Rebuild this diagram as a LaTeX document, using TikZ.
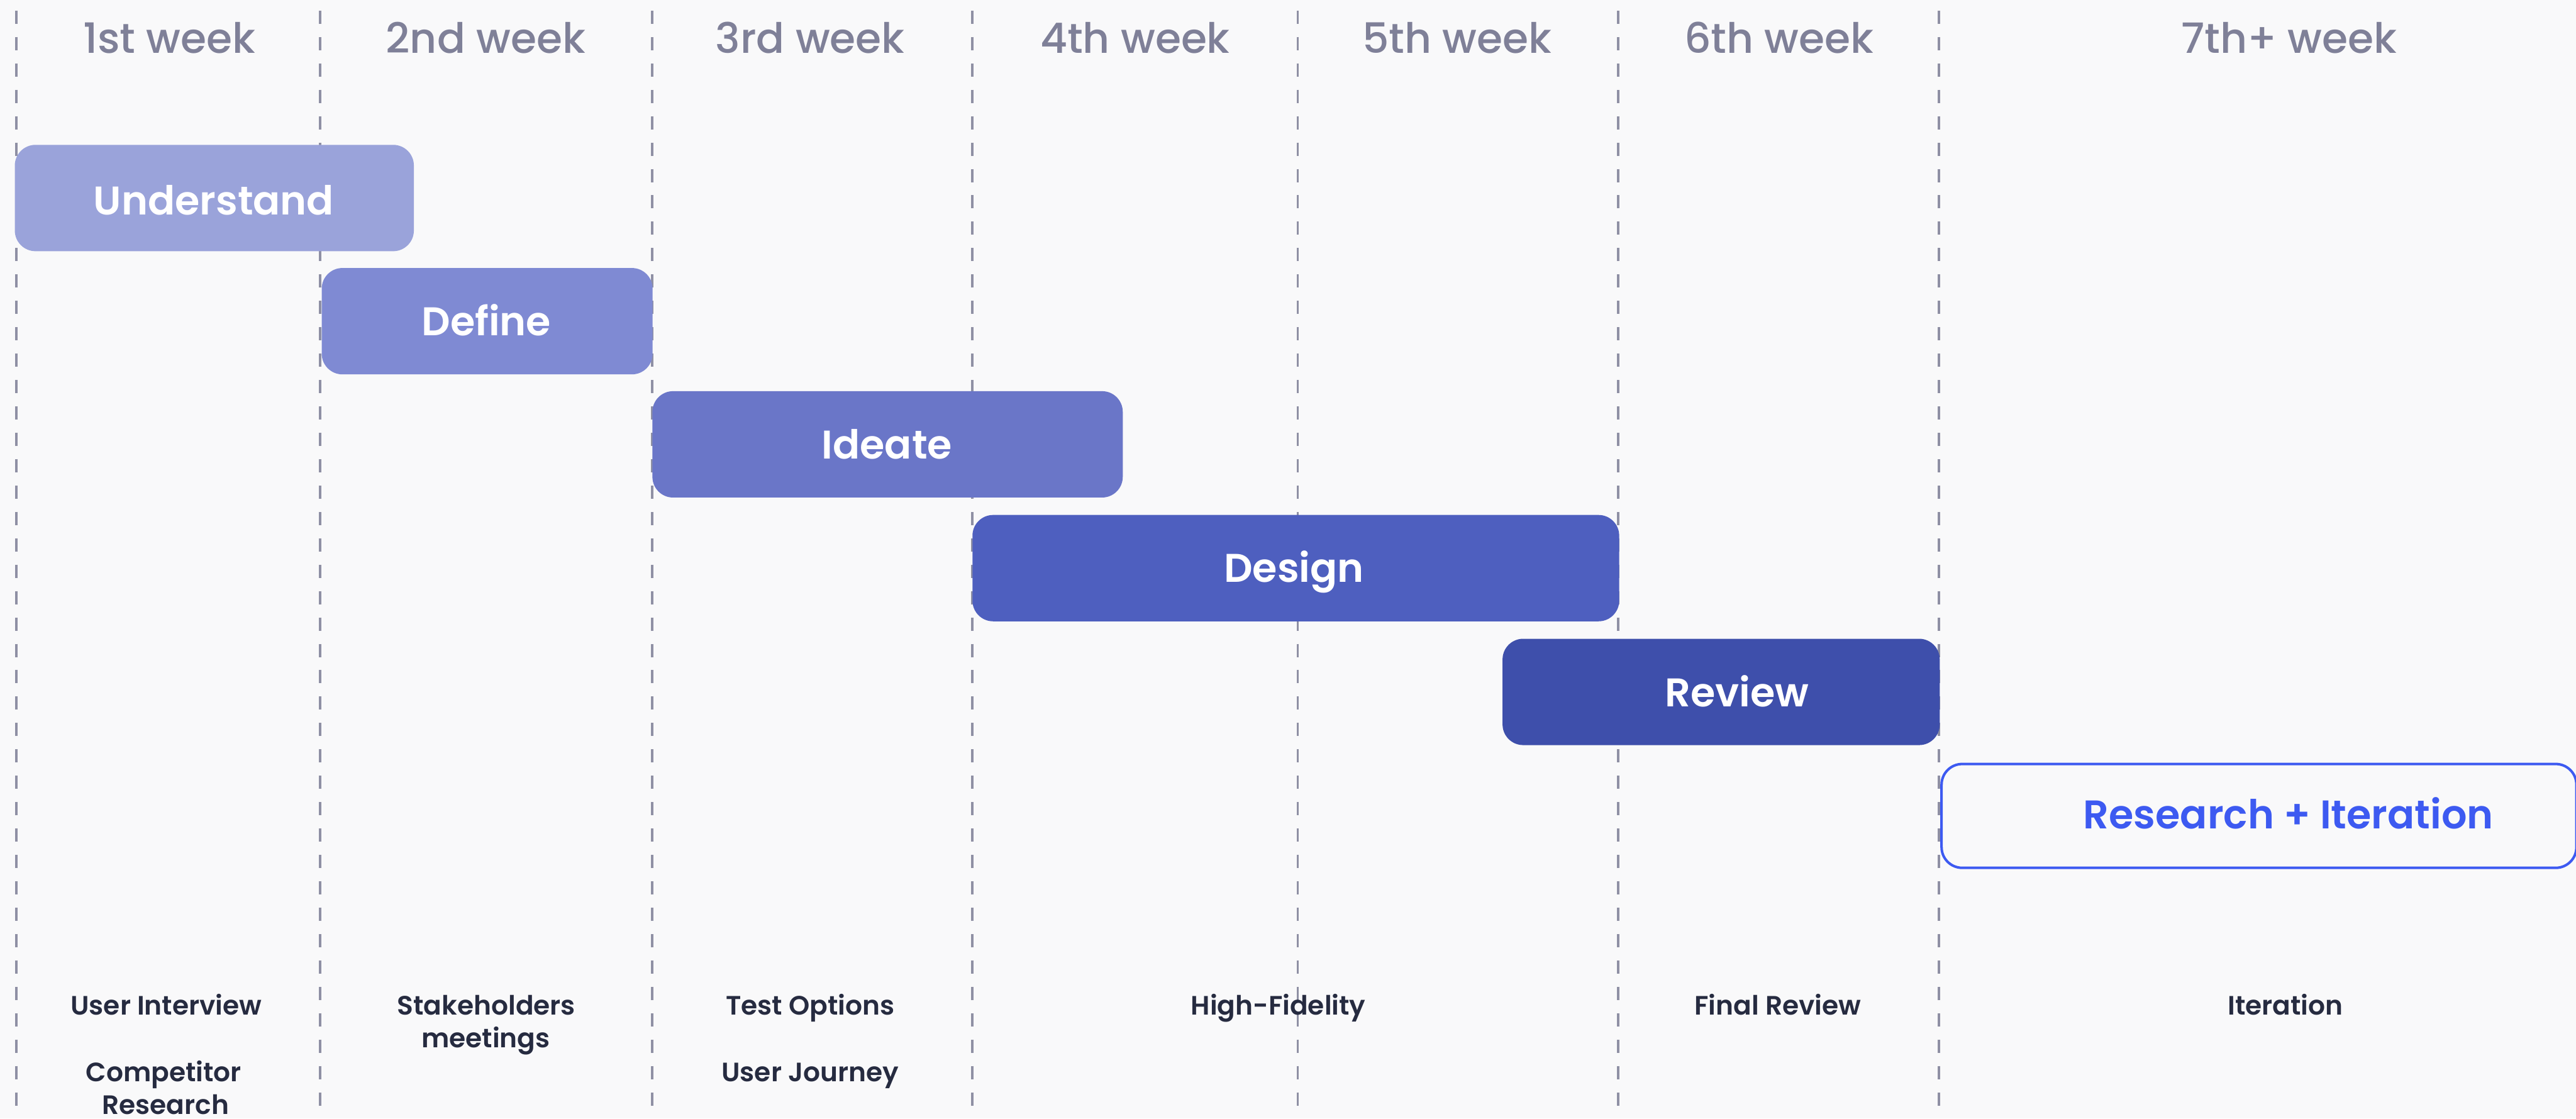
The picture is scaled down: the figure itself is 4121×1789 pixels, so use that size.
\documentclass[tikz,border=0pt]{standalone}
\usepackage{fontspec}
\setmainfont{Poppins}
\newfontfamily\popmed{Poppins Medium}
\newfontfamily\popsemi{Poppins SemiBold}
\definecolor{bg}{HTML}{F9F9FA}
\definecolor{gridgrey}{HTML}{8F90A4}
\definecolor{headgrey}{HTML}{7F8098}
\definecolor{foottext}{HTML}{262B40}
\definecolor{cUnderstand}{HTML}{9AA3DA}
\definecolor{cDefine}{HTML}{7F8AD3}
\definecolor{cIdeate}{HTML}{6A76C8}
\definecolor{cDesign}{HTML}{4E5FBF}
\definecolor{cReview}{HTML}{3E4FAB}
\definecolor{cIter}{HTML}{3D5AF1}
\begin{document}
\begin{tikzpicture}[x=0.01cm, y=-0.01cm,
  weekline/.style={gridgrey, line width=1.1pt, dash pattern=on 6pt off 6pt},
  weekhead/.style={anchor=base, text=headgrey, font=\popmed\fontsize{19}{23}\selectfont, inner sep=0pt},
  phasebar/.style={anchor=north west, rounded corners=9.4pt, inner sep=0pt, minimum height=1.70cm},
  phaselabel/.style={anchor=base, text=white, font=\popsemi\fontsize{18.2}{22}\selectfont, inner sep=0pt},
  task/.style={anchor=base, text=foottext, font=\popsemi\fontsize{12.1}{15}\selectfont, inner sep=0pt}]
% canvas
\fill[bg] (0,0) rectangle (4121,1789);
\useasboundingbox (0,0) rectangle (4121,1789);

% week separators
\foreach \xx/\nm in {26/a,512/b,1043/c,1555/d,2076/e,2589/f,3102/g}{
  \coordinate (top\nm) at (\xx,17);
  \coordinate (bot\nm) at (\xx,1789);
  \draw[weekline] (top\nm) -- (bot\nm);
}

% week headings
\node[weekhead] (w1) at (271,85) {1st week};
\node[weekhead] (w2) at (777,85) {2nd week};
\node[weekhead] (w3) at (1296,85) {3rd week};
\node[weekhead] (w4) at (1816,85) {4th week};
\node[weekhead] (w5) at (2331,85) {5th week};
\node[weekhead] (w6) at (2846,85) {6th week};
\node[weekhead] (w7) at (3662,85) {7th+ week};

% phase bars
\node[phasebar, fill=cUnderstand, minimum width=6.38cm] (understand) at (23,231) {};
\node[phasebar, fill=cDefine, minimum width=5.29cm] (define) at (514,428) {};
\node[phasebar, fill=cIdeate, minimum width=7.52cm] (ideate) at (1043,625) {};
\node[phasebar, fill=cDesign, minimum width=10.34cm] (design) at (1555,823) {};
\node[phasebar, fill=cReview, minimum width=6.99cm] (review) at (2403,1021) {};
\node[phasebar, fill=bg, draw=cIter, line width=1.15pt, minimum width=10.15cm, minimum height=1.66cm] (iter) at (3104,1220) {};

% phase labels
\node[phaselabel] (lUnderstand) at (342,344) {Understand};
\node[phaselabel] (lDefine) at (778,537) {Define};
\node[phaselabel] (lIdeate) at (1419,734) {Ideate};
\node[phaselabel] (lDesign) at (2070,931) {Design};
\node[phaselabel] (lReview) at (2779,1130) {Review};
\node[phaselabel, text=cIter] (lIter) at (3661,1326) {Research + Iteration};

% activities per week
\node[task] (t1a) at (266,1623) {User Interview};
\node[task] (t1b) at (262,1730) {Competitor};
\node[task] (t1c) at (265,1782) {Research};
\node[task] (t2a) at (778,1623) {Stakeholders};
\node[task] (t2b) at (777,1676) {meetings};
\node[task] (t3a) at (1296,1623) {Test Options};
\node[task] (t3b) at (1296,1730) {User Journey};
\node[task] (t4a) at (2045,1623) {High-Fidelity};
\node[task] (t6a) at (2844,1623) {Final Review};
\node[task] (t7a) at (3656,1623) {Iteration};
\end{tikzpicture}
\end{document}
